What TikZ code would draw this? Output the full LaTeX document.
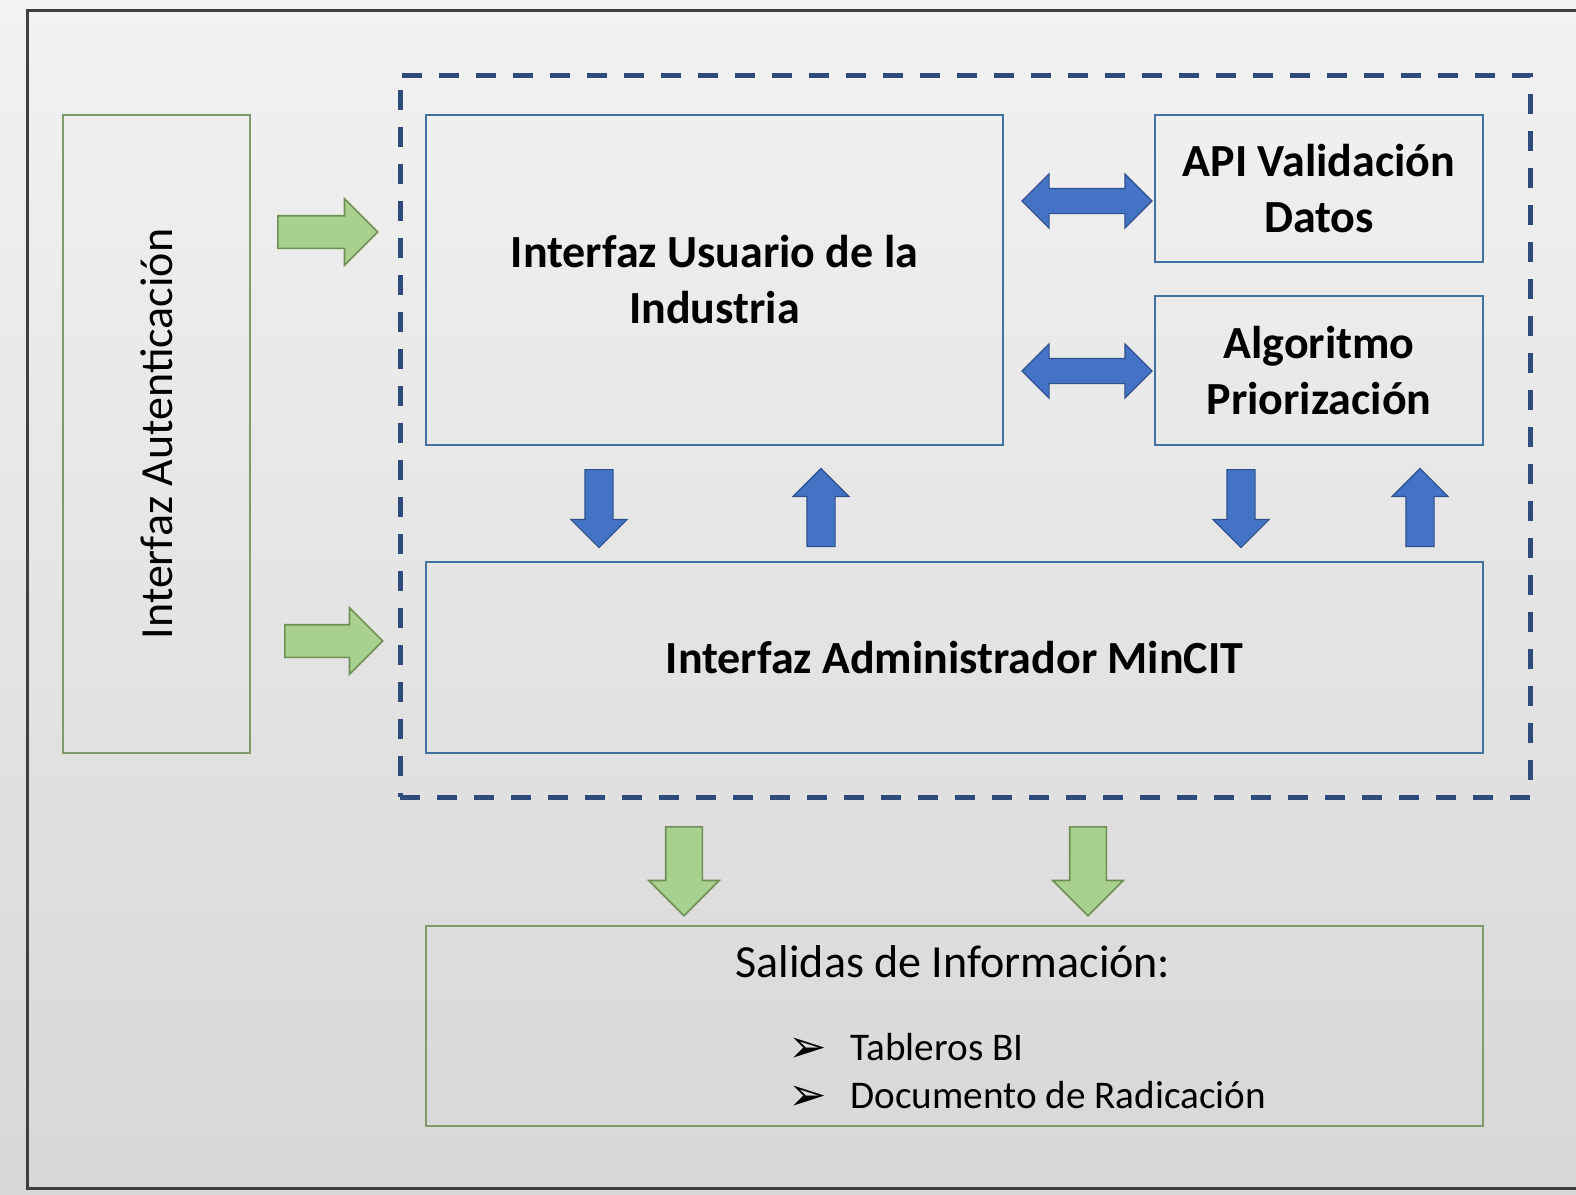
\documentclass[tikz,border=0pt]{standalone}
\usepackage{fontspec}
\setmainfont{Carlito}
\newfontfamily\dejavu{DejaVu Sans}
\usetikzlibrary{shapes.arrows}
\definecolor{boxblue}{HTML}{41719C}
\definecolor{dashblue}{HTML}{2F4B7C}
\definecolor{arrblue}{HTML}{4472C4}
\definecolor{arrblueline}{HTML}{2F528F}
\definecolor{arrgreen}{HTML}{A9D18E}
\definecolor{boxgreen}{HTML}{7F9B6E}
\definecolor{arrgreenline}{HTML}{6E8F56}
\definecolor{framegray}{HTML}{3F3F3F}
\definecolor{bgtop}{HTML}{F2F2F2}
\definecolor{bgbot}{HTML}{D7D7D7}

\begin{document}
\begin{tikzpicture}[x=0.5pt,y=-0.5pt,
every node/.style={anchor=center,inner sep=0pt,text=black},
bluebox/.style={draw=boxblue,line width=1pt,align=center,
  font=\fontsize{23}{28}\selectfont\bfseries},
greenbox/.style={draw=boxgreen,line width=1pt},
dashbox/.style={draw=dashblue,line width=2.5pt,dash pattern=on 10pt off 8.5pt},
bluearrow/.style={single arrow,draw=arrblueline,fill=arrblue,line width=0.6pt,
  anchor=tail,inner ysep=6.75pt,inner xsep=0pt,single arrow head extend=7pt,
  minimum height=39pt},
bluedouble/.style={double arrow,draw=arrblueline,fill=arrblue,line width=0.6pt,
  inner ysep=6pt,inner xsep=0pt,double arrow head extend=7.25pt,
  minimum height=65pt},
greenarrow/.style={single arrow,draw=arrgreenline,fill=arrgreen,line width=0.8pt,
  anchor=tail,inner xsep=0pt},
listitem/.style={anchor=base west,font=\fontsize{19.6}{24}\selectfont}
]
\useasboundingbox (0,0) rectangle (1576,1195);
\shade[top color=bgtop,bottom color=bgbot] (0,0) rectangle (1576,1195);
\draw[framegray,line width=1.5pt] (1576,10) -- (27,10) -- (27,1188) -- (1576,1188);

% boxes
\node[greenbox,rotate=90,minimum width=319pt,minimum height=93.5pt,
  font=\fontsize{23}{28}\selectfont] at (156.5,434) (auth) {Interfaz Autenticación};
\node[dashbox,minimum width=565pt,minimum height=361pt] at (965,436) (core) {};
\node[bluebox,minimum width=288.5pt,minimum height=165pt] at (714.5,280) (usr)
  {Interfaz Usuario de la\\Industria};
\node[bluebox,minimum width=164pt,minimum height=73.5pt] at (1319,188.5) (api)
  {API Validación\\Datos};
\node[bluebox,minimum width=164pt,minimum height=74.5pt] at (1319,370.5) (alg)
  {Algoritmo\\Priorización};
\node[bluebox,minimum width=528.5pt,minimum height=95.5pt] at (954.5,657.5) (adm)
  {Interfaz Administrador MinCIT};
\node[greenbox,minimum width=528.5pt,minimum height=100pt] at (954.5,1026) (out) {};
\node[font=\fontsize{23}{28}\selectfont] at (953,962) (outttl) {Salidas de Información:};
\node[listitem] at (788,1060) (bi) {\makebox[31pt][l]{\dejavu\fontsize{23}{26}\selectfont\raisebox{-1pt}{➢}}Tableros BI};
\node[listitem] at (788,1108) (rad) {\makebox[31pt][l]{\dejavu\fontsize{23}{26}\selectfont\raisebox{-1pt}{➢}}Documento de Radicación};

% arrows
\node[greenarrow,inner ysep=7.75pt,single arrow head extend=8.5pt,minimum height=50pt]
  at (277,232) (in1) {};
\node[greenarrow,inner ysep=7.75pt,single arrow head extend=8.5pt,minimum height=49pt]
  at (284,641) (in2) {};
\node[bluedouble] at (1087,201) (usrapi) {};
\node[bluedouble] at (1087,371) (usralg) {};
\node[bluearrow,rotate=-90] at (599,469) (usrdown) {};
\node[bluearrow,rotate=90] at (821,547) (usrup) {};
\node[bluearrow,rotate=-90] at (1241,469) (algdown) {};
\node[bluearrow,rotate=90] at (1420,547) (algup) {};
\node[greenarrow,rotate=-90,inner ysep=8.75pt,single arrow head extend=8.5pt,minimum height=44.5pt]
  at (684,826) (out1) {};
\node[greenarrow,rotate=-90,inner ysep=8.75pt,single arrow head extend=8.5pt,minimum height=44.5pt]
  at (1088,826) (out2) {};
\end{tikzpicture}
\end{document}
